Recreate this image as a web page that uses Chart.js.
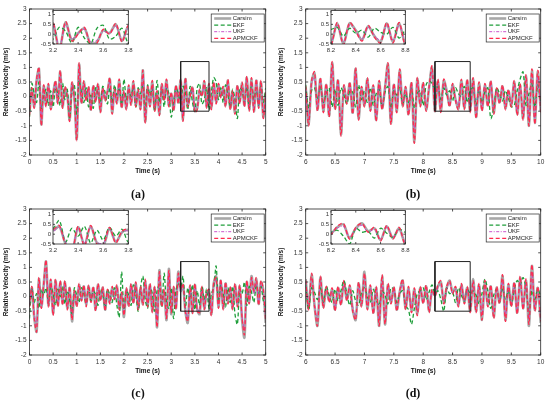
<!DOCTYPE html>
<html lang="en">
<head>
<meta charset="UTF-8">
<title>Relative Velocity Estimation</title>
<script src="https://cdn.jsdelivr.net/npm/chart.js"></script>
<style>
    body { margin: 0; background: #fff; }
    #figure { position: relative; width: 550px; height: 404px; overflow: hidden; background: #fff; }
    #figure canvas { position: absolute; }
    .panel-label {
        position: absolute; width: 40px; height: 14px; line-height: 14px; text-align: center;
        font: bold 12px 'Liberation Serif', 'Times New Roman', serif; color: #111;
    }
</style>
</head>
<body>
<div id="figure">
    <canvas id="mainA" width="275" height="200" style="left:0;top:0"></canvas>
    <canvas id="mainB" width="275" height="200" style="left:275px;top:0"></canvas>
    <canvas id="mainC" width="275" height="200" style="left:0;top:200px"></canvas>
    <canvas id="mainD" width="275" height="200" style="left:275px;top:200px"></canvas>
    <canvas id="insetA"></canvas>
    <canvas id="insetB"></canvas>
    <canvas id="insetC"></canvas>
    <canvas id="insetD"></canvas>
    <div class="panel-label" style="left:118px;top:187px">(a)</div>
    <div class="panel-label" style="left:393px;top:187px">(b)</div>
    <div class="panel-label" style="left:118px;top:386px">(c)</div>
    <div class="panel-label" style="left:393px;top:386px">(d)</div>
</div>

<script>
    // sampling of the recorded signals
    const sampleStep = 0.05;
    const startA = 0, startB = 6, startC = 0, startD = 6;

    const seriesNames = ['Carsim', 'EKF', 'UKF', 'APMCKF'];

    // panel (a): 0-5 s
    const carsimA = [-0.55,0.25,-0.35,0.55,0.95,-0.95,0.35,-0.30,0.40,-0.40,
        0.10,0.50,-0.20,0.85,-0.35,0.30,0.05,-0.80,0.45,-0.05,
        -1.45,1.10,-0.20,0.50,-0.10,0.30,-0.45,0.35,-0.15,0.40,
        -0.50,0.25,-0.10,0.15,0.60,-0.55,0.20,-0.20,0.55,-0.35,
        0.15,-0.40,0.35,-0.25,0.50,-0.30,0.20,-0.40,0.90,-0.85,
        0.30,-0.30,0.50,-0.45,0.15,-0.60,0.40,-0.10,0.55,-0.30,
        0.10,-0.45,0.35,-0.20,0.55,-0.80,0.60,-0.30,0.05,0.30,
        -0.50,-0.40,0.20,0.05,0.50,-0.35,0.40,-0.40,0.45,-0.20,
        0.40,0.00,0.30,-0.30,0.55,-0.40,0.15,-0.55,0.35,-0.20,
        0.45,-0.30,0.65,-0.45,0.60,-0.50,0.55,-0.35,0.50,-0.70,
        0.10];
    const ekfA = [-0.70,0.45,0.10,-0.20,0.50,-0.40,0.00,0.25,-0.30,0.20,
        -0.35,0.30,0.10,-0.30,0.45,-0.10,0.25,-0.75,0.20,0.40,
        -0.60,0.55,0.15,-0.20,0.30,-0.35,0.05,-0.40,0.30,0.10,
        -0.20,0.35,0.15,-0.25,0.30,-0.20,0.40,0.05,0.25,-0.30,
        0.60,-0.10,0.20,0.00,0.35,-0.35,0.30,0.10,0.40,-0.45,
        0.40,0.05,0.30,-0.50,0.55,-0.20,0.25,-0.35,0.30,0.10,
        -0.70,-0.20,0.30,0.10,-0.25,0.35,0.15,-0.45,0.35,-0.20,
        -0.50,0.30,0.45,-0.25,-0.10,0.30,-0.45,0.15,0.65,0.50,
        -0.10,0.30,-0.20,0.40,0.10,-0.35,0.25,-0.10,-0.75,0.30,
        0.20,-0.20,0.35,-0.40,0.45,-0.10,0.30,-0.30,0.40,-0.20,
        0.30];
    const ukfA = [-0.45,0.20,-0.30,0.45,0.80,-0.80,0.30,-0.25,0.35,-0.35,
        0.10,0.40,-0.15,0.70,-0.30,0.25,0.05,-0.65,0.40,-0.05,
        -1.20,0.95,-0.15,0.40,-0.10,0.25,-0.40,0.30,-0.10,0.35,
        -0.40,0.20,-0.05,0.15,0.50,-0.45,0.15,-0.15,0.45,-0.30,
        0.15,-0.35,0.30,-0.20,0.40,-0.25,0.15,-0.35,0.75,-0.70,
        0.25,-0.25,0.40,-0.40,0.10,-0.50,0.35,-0.05,0.45,-0.25,
        0.10,-0.40,0.30,-0.15,0.45,-0.65,0.50,-0.25,0.05,0.25,
        -0.40,-0.30,0.15,0.05,0.40,-0.30,0.30,-0.30,0.35,-0.15,
        0.35,0.00,0.25,-0.25,0.45,-0.30,0.15,-0.45,0.30,-0.15,
        0.35,-0.25,0.55,-0.35,0.50,-0.40,0.45,-0.30,0.40,-0.55,
        0.05];
    const apmckfA = [-0.65,0.30,-0.40,0.60,1.00,-1.00,0.40,-0.35,0.45,-0.45,
        0.05,0.55,-0.25,0.90,-0.40,0.35,0.00,-0.85,0.50,-0.10,
        -1.50,1.15,-0.25,0.55,-0.15,0.35,-0.50,0.40,-0.20,0.45,
        -0.55,0.30,-0.15,0.20,0.65,-0.60,0.25,-0.25,0.60,-0.40,
        0.20,-0.45,0.40,-0.30,0.55,-0.35,0.25,-0.45,0.90,-0.90,
        0.35,-0.35,0.55,-0.50,0.20,-0.65,0.45,-0.15,0.60,-0.35,
        0.15,-0.50,0.40,-0.25,0.60,-0.85,0.65,-0.35,0.00,0.35,
        -0.55,-0.45,0.25,0.00,0.55,-0.40,0.45,-0.45,0.50,-0.25,
        0.45,-0.05,0.35,-0.35,0.60,-0.45,0.20,-0.60,0.40,-0.25,
        0.50,-0.35,0.70,-0.50,0.65,-0.55,0.60,-0.40,0.55,-0.75,
        0.15];

    // panel (b): 6-10 s
    const carsimB = [0.30,-0.95,0.50,0.80,-0.45,0.60,-0.50,0.40,-0.65,1.15,
        -0.40,0.55,-1.30,0.35,-0.20,0.45,-0.55,0.95,-0.75,0.30,
        -0.30,0.60,-0.45,0.35,-0.80,0.50,-0.40,0.30,1.10,-0.90,
        0.40,-0.50,0.90,-0.30,0.30,-0.60,0.45,-1.55,0.60,-0.30,
        0.45,-0.45,0.30,1.00,-0.50,0.55,-0.50,0.55,0.20,-0.30,
        0.40,-0.10,-0.40,0.55,-0.40,0.55,-0.50,0.60,-0.70,0.45,
        -0.45,0.40,-0.30,0.50,-0.55,0.25,-0.20,0.35,-0.40,0.20,
        -0.30,0.50,-0.60,0.40,-0.75,0.70,-1.00,0.90,-0.90,0.85,
        -0.50];
    const ekfB = [0.40,-0.40,0.20,0.30,-0.10,0.35,-0.20,0.10,0.30,-0.35,
        0.25,-0.30,0.30,0.05,-0.25,0.20,0.15,-0.35,0.40,-0.10,
        0.20,-0.20,0.30,-0.30,0.10,0.25,-0.35,0.15,0.35,-0.40,
        0.20,0.05,0.30,-0.25,0.10,-0.20,0.30,-0.40,0.10,0.20,
        -0.30,0.40,0.55,0.45,0.25,0.35,-0.10,0.30,0.05,0.20,
        -0.15,0.30,0.10,0.00,0.35,-0.20,0.20,0.30,-0.30,0.25,
        -0.20,0.15,0.30,-0.75,-0.40,0.30,0.10,-0.15,0.20,-0.05,
        -0.35,-0.30,0.20,0.60,0.85,-0.30,0.10,0.45,-0.35,0.40,
        -0.20];
    const ukfB = [0.25,-0.80,0.40,0.65,-0.35,0.50,-0.40,0.35,-0.55,0.95,
        -0.30,0.45,-1.05,0.30,-0.15,0.35,-0.45,0.80,-0.60,0.25,
        -0.25,0.50,-0.35,0.30,-0.65,0.40,-0.30,0.25,0.90,-0.75,
        0.35,-0.40,0.75,-0.25,0.25,-0.50,0.35,-1.25,0.50,-0.25,
        0.35,-0.35,0.25,0.85,-0.40,0.45,-0.40,0.45,0.15,-0.25,
        0.35,-0.05,-0.30,0.45,-0.30,0.45,-0.40,0.50,-0.55,0.35,
        -0.35,0.35,-0.25,0.40,-0.45,0.20,-0.15,0.30,-0.30,0.15,
        -0.25,0.40,-0.50,0.35,-0.60,0.55,-0.80,0.75,-0.75,0.70,
        -0.40];
    const apmckfB = [0.35,-1.00,0.55,0.85,-0.50,0.65,-0.55,0.45,-0.70,1.20,
        -0.45,0.60,-1.35,0.40,-0.25,0.50,-0.60,1.00,-0.80,0.35,
        -0.35,0.65,-0.50,0.40,-0.85,0.55,-0.45,0.35,1.15,-0.95,
        0.45,-0.55,0.95,-0.35,0.35,-0.65,0.50,-1.60,0.65,-0.35,
        0.50,-0.50,0.35,1.05,-0.55,0.60,-0.55,0.60,0.15,-0.35,
        0.45,-0.15,-0.45,0.60,-0.45,0.60,-0.55,0.65,-0.75,0.50,
        -0.50,0.45,-0.35,0.55,-0.60,0.30,-0.25,0.40,-0.45,0.25,
        -0.35,0.55,-0.65,0.45,-0.80,0.75,-1.00,0.95,-0.95,0.90,
        -0.55];

    // panel (c): 0-5 s
    const carsimC = [-0.30,0.30,-0.70,-1.20,0.60,-0.35,0.40,1.20,-0.30,0.55,
        -0.60,0.55,-0.30,0.50,-0.25,0.50,-0.40,0.30,-0.85,0.15,
        -0.30,0.40,-0.10,0.35,-0.30,0.35,-0.15,0.30,-0.45,0.40,
        -0.10,0.30,-0.45,0.20,-0.20,0.30,-0.05,0.35,-0.40,0.10,
        -0.70,0.25,-0.30,0.40,-0.20,0.45,-0.40,0.30,-0.25,0.55,
        -0.30,0.40,-0.50,0.30,-1.05,0.90,-0.30,0.20,-0.80,0.95,
        -0.60,0.30,-0.40,0.85,0.20,0.40,-0.50,-0.90,0.35,-0.55,
        0.40,-0.45,-0.60,0.30,-0.40,0.10,0.20,-0.60,0.45,0.70,
        -0.35,0.55,-0.40,0.45,-0.20,0.30,-0.40,0.40,-0.30,0.35,
        -0.80,-1.40,0.50,-0.20,0.70,0.15,0.60,-0.25,0.50,0.20,
        -0.90];
    const ekfC = [-0.75,0.30,-0.20,0.10,-0.40,0.25,0.05,0.30,-0.20,0.35,
        0.10,-0.30,0.25,0.00,0.35,-0.25,0.20,-0.10,-0.60,0.30,
        0.05,-0.20,0.30,0.10,-0.25,0.30,-0.15,0.20,0.05,-0.30,
        0.25,0.10,-0.40,0.25,0.05,-0.20,0.30,-0.30,-0.70,0.85,
        -0.45,0.20,0.05,-0.30,0.40,0.10,-0.50,0.30,0.70,-0.10,
        -0.40,0.35,0.10,-0.50,0.20,0.40,-0.35,0.80,-0.20,-0.40,
        0.30,-0.75,0.20,0.45,0.30,0.70,-0.40,0.30,-0.10,0.40,
        -0.45,0.20,-0.30,0.35,-0.10,0.25,-0.40,0.10,0.30,1.05,
        -0.20,0.40,0.10,-0.35,0.30,-0.20,0.35,-0.60,-0.95,0.25,
        0.10,0.50,-0.30,0.35,0.15,-0.20,0.40,0.10,0.35,-0.15,
        -0.40];
    const ukfC = [-0.25,0.25,-0.55,-1.00,0.50,-0.30,0.35,1.00,-0.25,0.45,
        -0.50,0.45,-0.25,0.40,-0.20,0.40,-0.35,0.25,-0.70,0.15,
        -0.25,0.35,-0.10,0.30,-0.25,0.30,-0.10,0.25,-0.40,0.35,
        -0.10,0.25,-0.40,0.15,-0.15,0.25,-0.05,0.30,-0.35,0.10,
        -0.55,0.20,-0.25,0.35,-0.15,0.40,-0.35,0.25,-0.20,0.45,
        -0.25,0.35,-0.40,0.25,-0.85,0.75,-0.25,0.15,-0.65,0.80,
        -0.50,0.25,-0.35,0.70,0.15,0.35,-0.40,-0.75,0.30,-0.45,
        0.35,-0.40,-0.50,0.25,-0.35,0.10,0.15,-0.50,0.40,0.60,
        -0.30,0.45,-0.35,0.40,-0.15,0.25,-0.35,0.35,-0.25,0.30,
        -0.65,-1.15,0.40,-0.15,0.60,0.10,0.50,-0.20,0.40,0.15,
        -0.75];
    const apmckfC = [-0.35,0.35,-0.75,-1.20,0.65,-0.40,0.45,1.25,-0.35,0.60,
        -0.65,0.60,-0.35,0.55,-0.30,0.55,-0.45,0.35,-0.80,0.20,
        -0.35,0.45,-0.15,0.40,-0.35,0.40,-0.20,0.35,-0.50,0.45,
        -0.15,0.35,-0.50,0.25,-0.25,0.35,-0.10,0.40,-0.45,0.15,
        -0.65,0.30,-0.35,0.45,-0.25,0.50,-0.45,0.35,-0.30,0.60,
        -0.35,0.45,-0.55,0.35,-1.05,0.85,-0.35,0.25,-0.75,0.90,
        -0.55,0.35,-0.45,0.80,0.25,0.45,-0.55,-0.85,0.40,-0.60,
        0.45,-0.50,-0.55,0.35,-0.45,0.15,0.25,-0.65,0.50,0.65,
        -0.40,0.60,-0.45,0.50,-0.25,0.35,-0.45,0.45,-0.35,0.40,
        -0.75,-1.30,0.55,-0.25,0.65,0.20,0.65,-0.30,0.55,0.25,
        -0.85];

    // panel (d): 6-10 s
    const carsimD = [0.60,-0.40,0.75,-0.30,-1.00,0.65,-0.35,0.30,-0.15,0.25,
        -0.45,0.30,-0.25,0.50,-0.10,0.35,-0.45,-0.80,0.45,-0.30,
        0.85,-0.40,0.35,-0.55,0.30,-1.00,0.70,-0.95,0.40,-0.20,
        0.30,-0.45,0.15,0.55,-0.40,0.30,-0.50,0.25,-0.60,0.30,
        -0.20,0.35,-0.50,0.20,0.05,0.35,0.50,-0.20,0.30,0.55,
        0.15,0.30,-0.30,0.40,-0.20,0.30,-0.50,0.60,-0.50,0.40,
        -0.80,0.50,-0.30,0.35,-0.70,0.30,-0.20,0.70,-0.80,0.40,
        -0.30,0.45,-0.55,0.65,-0.40,0.55,-1.00,1.05,-0.45,0.30,
        -0.90];
    const ekfD = [0.40,-0.45,0.30,0.15,-0.10,0.30,-0.20,0.35,0.05,-0.20,
        0.25,-0.15,0.20,0.55,0.10,-0.30,0.20,-0.15,-0.30,0.15,
        0.30,0.00,-0.20,0.25,-0.10,-0.30,0.20,0.05,-0.25,0.30,
        0.25,-0.20,0.10,0.20,-0.30,-0.45,-0.95,-0.40,0.10,0.20,
        0.30,-0.10,0.15,0.40,0.10,0.20,-0.10,-0.50,0.30,0.10,
        0.15,-0.20,0.30,0.05,-0.15,0.25,0.10,0.20,0.05,-0.25,
        0.10,0.60,0.20,-0.40,0.05,0.25,-0.20,0.30,-0.10,0.20,
        -0.30,0.25,0.55,0.40,0.65,0.30,-0.60,0.20,-0.10,0.25,
        0.00];
    const ukfD = [0.50,-0.30,0.60,-0.25,-0.80,0.55,-0.30,0.25,-0.10,0.20,
        -0.35,0.25,-0.20,0.40,-0.05,0.30,-0.35,-0.65,0.35,-0.25,
        0.70,-0.30,0.30,-0.45,0.25,-0.80,0.55,-0.75,0.30,-0.15,
        0.25,-0.35,0.10,0.45,-0.30,0.25,-0.40,0.20,-0.50,0.25,
        -0.15,0.30,-0.40,0.15,0.05,0.30,0.40,-0.15,0.25,0.45,
        0.10,0.25,-0.25,0.35,-0.15,0.25,-0.40,0.50,-0.40,0.35,
        -0.65,0.40,-0.25,0.30,-0.55,0.25,-0.15,0.55,-0.65,0.35,
        -0.25,0.35,-0.45,0.55,-0.30,0.45,-0.80,0.85,-0.35,0.25,
        -0.75];
    const apmckfD = [0.55,-0.45,0.80,-0.35,-1.00,0.70,-0.40,0.35,-0.20,0.30,
        -0.50,0.35,-0.30,0.55,-0.15,0.40,-0.50,-0.80,0.50,-0.35,
        0.80,-0.45,0.40,-0.60,0.35,-1.00,0.75,-0.95,0.45,-0.25,
        0.35,-0.50,0.20,0.60,-0.45,0.35,-0.55,0.30,-0.65,0.35,
        -0.25,0.40,-0.55,0.25,0.00,0.40,0.55,-0.25,0.35,0.55,
        0.10,0.35,-0.35,0.45,-0.25,0.35,-0.55,0.55,-0.55,0.45,
        -0.80,0.55,-0.35,0.40,-0.75,0.35,-0.25,0.75,-0.85,0.45,
        -0.35,0.50,-0.60,0.70,-0.45,0.60,-0.95,1.10,-0.50,0.35,
        -0.85];

    // zoom windows [xMin, xMax, yMin, yMax]
    const zoomA = [3.2, 3.8, -0.5, 1.2];
    const zoomB = [8.2, 8.8, -0.5, 1.2];

    // tick labels
    const mainYTicks = [-2, -1.5, -1, -0.5, 0, 0.5, 1, 1.5, 2, 2.5, 3];
    const xTicksA = [0, 0.5, 1, 1.5, 2, 2.5, 3, 3.5, 4, 4.5, 5];
    const xTicksB = [6, 6.5, 7, 7.5, 8, 8.5, 9, 9.5, 10];
    const insetXTicksA = [3.2, 3.4, 3.6, 3.8];
    const insetXTicksB = [8.2, 8.4, 8.6, 8.8];
    const insetYTicks = [-0.5, 0, 0.5, 1];

    Chart.defaults.font.family = "'Liberation Sans', Arial, sans-serif";
    Chart.defaults.color = '#333';

    const plainLabel = v => String(Number(v.toFixed(2)));

    const framePlugin = {
        id: 'frame',
        beforeDraw(chart, args, opts) {
            if (!opts.fill) return;
            const a = chart.chartArea;
            chart.ctx.save();
            chart.ctx.fillStyle = '#fff';
            chart.ctx.fillRect(a.left, a.top, a.width, a.height);
            chart.ctx.restore();
        },
        afterDraw(chart, args, opts) {
            const {ctx, chartArea: a, scales} = chart;
            const len = opts.tickLen || 2.5;
            ctx.save();
            ctx.strokeStyle = '#262626';
            ctx.lineWidth = 0.8;
            ctx.strokeRect(a.left, a.top, a.width, a.height);
            ctx.beginPath();
            scales.x.ticks.forEach(t => {
                const px = scales.x.getPixelForValue(t.value);
                ctx.moveTo(px, a.bottom); ctx.lineTo(px, a.bottom - len);
                ctx.moveTo(px, a.top); ctx.lineTo(px, a.top + len);
            });
            scales.y.ticks.forEach(t => {
                const py = scales.y.getPixelForValue(t.value);
                ctx.moveTo(a.left, py); ctx.lineTo(a.left + len, py);
                ctx.moveTo(a.right, py); ctx.lineTo(a.right - len, py);
            });
            ctx.stroke();
            ctx.restore();
        }
    };

    const boxLegendPlugin = {
        id: 'boxLegend',
        afterDraw(chart) {
            const {ctx, chartArea: a} = chart;
            const items = chart.data.datasets.filter(d => seriesNames.includes(d.label));
            const w = 53, h = 28;
            const x0 = a.right - 54.5, y0 = a.top + 5;
            ctx.save();
            ctx.fillStyle = '#fff';
            ctx.fillRect(x0, y0, w, h);
            ctx.strokeStyle = '#262626';
            ctx.lineWidth = 0.7;
            ctx.strokeRect(x0, y0, w, h);
            ctx.font = "6px 'Liberation Sans', Arial, sans-serif";
            ctx.textBaseline = 'middle';
            items.forEach((d, i) => {
                const y = y0 + 4.5 + i * 6.6;
                ctx.strokeStyle = d.borderColor;
                ctx.lineWidth = d.borderWidth;
                ctx.setLineDash(d.borderDash || []);
                ctx.beginPath();
                ctx.moveTo(x0 + 3, y);
                ctx.lineTo(x0 + 20, y);
                ctx.stroke();
                ctx.setLineDash([]);
                ctx.fillStyle = '#222';
                ctx.fillText(d.label, x0 + 21.5, y);
            });
            ctx.restore();
        }
    };

    function buildDatasets(start, carsim, ekf, ukf, apmckf) {
        const toPoints = vals => vals.map((v, i) => ({ x: +(start + i * sampleStep).toFixed(2), y: v }));
        return [
            { label: seriesNames[0], data: toPoints(carsim), borderColor: '#a8a8a8', borderWidth: 2.6, order: 4 },
            { label: seriesNames[1], data: toPoints(ekf), borderColor: '#1f9e3a', borderWidth: 1.3, borderDash: [4, 2.5], order: 3 },
            { label: seriesNames[2], data: toPoints(ukf), borderColor: '#c43fc4', borderWidth: 0.9, borderDash: [3, 1.5, 1, 1.5], order: 2 },
            { label: seriesNames[3], data: toPoints(apmckf), borderColor: '#ff2b4f', borderWidth: 1.3, borderDash: [4, 2.5], order: 1 }
        ];
    }

    function rectDataset(z) {
        return {
            label: '',
            data: [{x: z[0], y: z[2]}, {x: z[1], y: z[2]}, {x: z[1], y: z[3]}, {x: z[0], y: z[3]}, {x: z[0], y: z[2]}],
            borderColor: '#222', borderWidth: 1, tension: 0, order: 0
        };
    }

    function setTicks(values) {
        return scale => { scale.ticks = values.map(v => ({ value: v })); };
    }

    function mainChart(id, start, end, xTicks, yAxisWidth, series, zoom) {
        const datasets = buildDatasets(start, ...series);
        datasets.push(rectDataset(zoom));
        return new Chart(document.getElementById(id), {
            type: 'line',
            data: { datasets },
            options: {
                responsive: false,
                animation: false,
                layout: { padding: { top: 9, right: 9.3, bottom: 20, left: 0 } },
                elements: { point: { radius: 0 }, line: { tension: 0.3, fill: false } },
                plugins: { legend: { display: false }, tooltip: { enabled: false }, frame: { tickLen: 2.5 } },
                scales: {
                    x: {
                        type: 'linear', min: start, max: end,
                        afterBuildTicks: setTicks(xTicks),
                        afterFit: s => { s.height = 25; },
                        grid: { display: false, drawTicks: false },
                        border: { display: false },
                        ticks: { padding: 3, font: { size: 6.5 }, maxRotation: 0, autoSkip: false, callback: plainLabel },
                        title: { display: true, text: 'Time (s)', color: '#111', font: { size: 6.5, weight: 'bold' }, padding: { top: 0, bottom: 5 } }
                    },
                    y: {
                        type: 'linear', min: -2, max: 3,
                        afterBuildTicks: setTicks(mainYTicks),
                        afterFit: s => { s.width = yAxisWidth; },
                        grid: { display: false, drawTicks: false },
                        border: { display: false },
                        ticks: { padding: 3, font: { size: 6.5 }, autoSkip: false, callback: plainLabel },
                        title: { display: true, text: 'Relative Velocity (m/s)', color: '#111', font: { size: 6.5, weight: 'bold' }, padding: { top: 2.8, bottom: 0 } }
                    }
                }
            },
            plugins: [framePlugin, boxLegendPlugin]
        });
    }

    function insetChart(id, box, start, series, zoom, xTicks) {
        const canvas = document.getElementById(id);
        const leftSpace = 20, topSpace = 4, bottomSpace = 12, rightSpace = 4;
        canvas.width = box.r - box.l + leftSpace + rightSpace;
        canvas.height = box.b - box.t + topSpace + bottomSpace;
        canvas.style.left = (box.l - leftSpace) + 'px';
        canvas.style.top = (box.t - topSpace) + 'px';
        return new Chart(canvas, {
            type: 'line',
            data: { datasets: buildDatasets(start, ...series) },
            options: {
                responsive: false,
                animation: false,
                layout: { padding: { top: topSpace, right: rightSpace, bottom: 0, left: 0 } },
                elements: { point: { radius: 0 }, line: { tension: 0.3, fill: false } },
                plugins: { legend: { display: false }, tooltip: { enabled: false }, frame: { fill: true, tickLen: 2 } },
                scales: {
                    x: {
                        type: 'linear', min: zoom[0], max: zoom[1],
                        afterBuildTicks: setTicks(xTicks),
                        afterFit: s => { s.height = bottomSpace; },
                        grid: { display: false, drawTicks: false },
                        border: { display: false },
                        ticks: { padding: 2.5, font: { size: 6 }, maxRotation: 0, autoSkip: false, callback: plainLabel }
                    },
                    y: {
                        type: 'linear', min: zoom[2], max: zoom[3],
                        afterBuildTicks: setTicks(insetYTicks),
                        afterFit: s => { s.width = leftSpace; },
                        grid: { display: false, drawTicks: false },
                        border: { display: false },
                        ticks: { padding: 2, font: { size: 6 }, autoSkip: false, callback: plainLabel }
                    }
                }
            },
            plugins: [framePlugin]
        });
    }

    const seriesA = [carsimA, ekfA, ukfA, apmckfA];
    const seriesB = [carsimB, ekfB, ukfB, apmckfB];
    const seriesC = [carsimC, ekfC, ukfC, apmckfC];
    const seriesD = [carsimD, ekfD, ukfD, apmckfD];

    mainChart('mainA', startA, 5, xTicksA, 29.5, seriesA, zoomA);
    mainChart('mainB', startB, 10, xTicksB, 30.7, seriesB, zoomB);
    mainChart('mainC', startC, 5, xTicksA, 29.5, seriesC, zoomA);
    mainChart('mainD', startD, 10, xTicksB, 30.7, seriesD, zoomB);

    insetChart('insetA', { l: 53.3, r: 131.3, t: 9, b: 44.3 }, startA, seriesA, zoomA, insetXTicksA);
    insetChart('insetB', { l: 330.7, r: 408.3, t: 9, b: 44.3 }, startB, seriesB, zoomB, insetXTicksB);
    insetChart('insetC', { l: 53.3, r: 131.3, t: 209, b: 244.3 }, startC, seriesC, zoomA, insetXTicksA);
    insetChart('insetD', { l: 330.7, r: 408.3, t: 209, b: 244.3 }, startD, seriesD, zoomB, insetXTicksB);
</script>
</body>
</html>
